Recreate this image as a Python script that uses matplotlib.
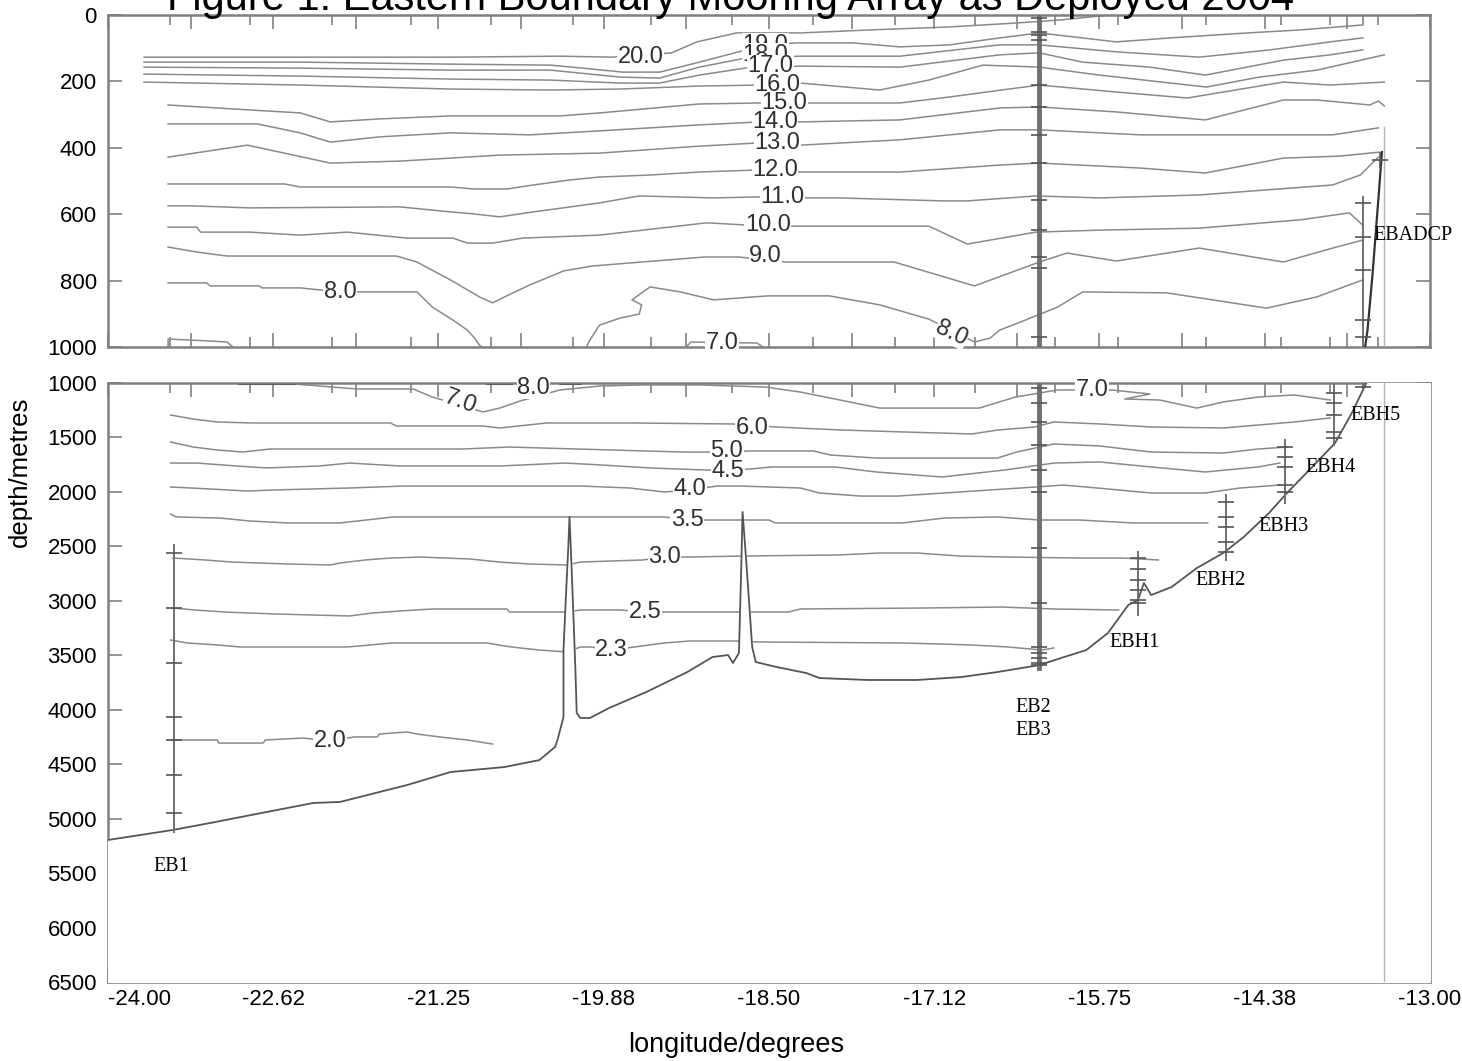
import numpy as np
import matplotlib.pyplot as plt

plt.rcParams['font.family'] = ['Liberation Sans', 'DejaVu Sans']

# ---------------- upper section (0-1000 m): isotherm depths ----------------
t20_lon = [-23.70, -22.40, -21.15, -20.24, -19.81, -19.31, -19.10, -18.77, -18.24, -17.66, -17.00, -16.44, -16.08, -15.66]
t20_dep = [127, 127, 127, 124, 127, 114, 81, 54, 54, 45, 36, 24, 15, 0]
t19_lon = [-23.70, -22.40, -21.15, -20.32, -20.05, -19.72, -19.41, -19.08, -18.70, -18.51, -18.27, -17.80, -17.41,
           -17.00, -16.58, -16.25, -15.61, -15.16, -14.52, -14.08, -13.56]
t19_dep = [142, 142, 148, 151, 160, 172, 172, 142, 106, 90, 84, 84, 96, 90, 69, 54, 81, 69, 54, 45, 30]
t18_lon = [-23.70, -22.40, -21.15, -20.32, -19.74, -19.41, -19.08, -18.70, -18.24, -17.41, -16.58, -16.25, -15.61,
           -14.92, -14.33, -13.83, -13.56]
t18_dep = [157, 160, 166, 166, 187, 190, 157, 130, 124, 124, 90, 90, 111, 127, 105, 81, 69]
t17_lon = [-23.70, -22.40, -21.15, -20.32, -19.74, -19.41, -19.08, -18.70, -18.24, -17.41, -16.58, -16.25, -15.89,
           -15.33, -14.87, -14.22, -13.83, -13.56]
t17_dep = [178, 184, 193, 196, 205, 205, 181, 160, 154, 157, 120, 114, 142, 157, 181, 136, 120, 105]
t16_lon = [-23.70, -22.40, -21.15, -20.32, -19.74, -19.08, -18.58, -18.24, -17.58, -17.17, -16.72, -16.25, -15.75,
           -14.86, -14.42, -13.94, -13.38]
t16_dep = [202, 211, 223, 226, 223, 214, 211, 205, 226, 196, 151, 157, 181, 217, 187, 166, 120]
t15_lon = [-23.50, -22.82, -22.40, -22.15, -21.74, -21.15, -20.24, -19.91, -19.08, -18.58, -18.13, -17.41, -17.00,
           -16.44, -16.25, -15.61, -15.02, -14.22, -13.83, -13.38]
t15_dep = [271, 286, 295, 322, 313, 304, 304, 295, 268, 265, 265, 265, 247, 220, 211, 232, 250, 202, 211, 202]
t14_lon = [-23.50, -22.76, -22.40, -22.15, -21.74, -21.15, -20.49, -19.91, -19.08, -18.58, -18.24, -17.41, -16.58,
           -16.25, -15.61, -14.87, -14.22, -13.94, -13.50, -13.43, -13.38]
t14_dep = [328, 328, 355, 383, 367, 355, 361, 349, 331, 322, 322, 316, 280, 277, 292, 316, 256, 256, 271, 259, 274]
t13_lon = [-23.50, -22.84, -22.15, -21.57, -21.15, -20.74, -19.91, -19.08, -18.62, -18.24, -17.41, -16.58, -16.25,
           -15.41, -13.81, -13.43]
t13_dep = [428, 392, 446, 440, 431, 422, 416, 395, 386, 392, 376, 346, 346, 361, 361, 340]
t12_lon = [-23.50, -22.53, -22.40, -21.15, -20.96, -20.68, -20.46, -20.16, -19.91, -19.49, -19.08, -18.62, -18.24,
           -17.41, -16.58, -16.25, -15.41, -14.87, -14.22, -13.75, -13.42]
t12_dep = [509, 509, 518, 518, 524, 524, 512, 497, 488, 482, 473, 467, 473, 473, 452, 446, 461, 476, 431, 425, 413]
t11_lon = [-23.50, -23.29, -22.82, -21.57, -21.15, -20.96, -20.74, -20.46, -19.91, -19.58, -18.96, -18.60, -18.14,
           -17.91, -17.05, -16.85, -16.28, -15.75, -14.92, -13.81, -13.58, -13.43]
t11_dep = [575, 575, 581, 578, 593, 599, 608, 593, 566, 545, 551, 548, 551, 551, 560, 560, 545, 551, 542, 512, 482, 428]
t10_lon = [-23.50, -23.26, -23.23, -22.82, -22.40, -22.01, -21.76, -21.51, -21.13, -21.01, -20.80, -20.55, -19.91,
           -19.02, -18.51, -17.17, -16.85, -16.28, -15.75, -14.92, -14.08, -13.67, -13.56]
t10_dep = [639, 639, 654, 654, 663, 654, 663, 672, 672, 687, 687, 672, 663, 626, 636, 636, 690, 654, 648, 642, 617, 596, 633]
t9_lon = [-23.50, -23.26, -23.01, -21.60, -21.43, -21.15, -20.91, -20.80, -20.70, -20.49, -20.21, -19.97, -19.04,
          -18.75, -18.36, -17.46, -16.79, -16.25, -16.02, -15.61, -14.92, -14.22, -13.81, -13.56]
t9_dep = [699, 714, 726, 726, 744, 798, 849, 867, 849, 813, 771, 756, 729, 729, 744, 744, 816, 744, 717, 741, 702, 744, 702, 678]
t8a_lon = [-23.50, -23.18, -23.15, -22.74, -22.72, -22.40, -22.24, -21.89, -21.43, -21.30, -21.13, -21.01, -20.95, -20.91, -20.89]
t8a_dep = [807, 807, 816, 816, 822, 822, 828, 834, 834, 880, 919, 949, 973, 994, 1000]
t8b_lon = [-20.02, -19.99, -19.91, -19.74, -19.58, -19.56, -19.64, -19.49, -19.24, -18.96, -18.51, -18.00, -17.58,
           -17.17, -16.79, -16.66, -16.58, -16.43, -16.10, -15.89, -15.19, -14.36, -13.94, -13.56]
t8b_dep = [1000, 979, 934, 913, 901, 873, 858, 819, 834, 858, 846, 846, 873, 916, 985, 973, 949, 928, 880, 834, 837, 883, 849, 798]
t7a_lon = [-23.50, -23.50, -23.15, -23.01, -22.96]
t7a_dep = [1000, 976, 982, 985, 1000]
t7b_lon = [-19.19, -19.15, -18.60, -18.55]
t7b_dep = [1000, 985, 988, 1000]

top_lab_text = ['20.0', '19.0', '18.0', '17.0', '16.0', '15.0', '14.0', '13.0', '12.0', '11.0', '10.0', '9.0', '8.0', '8.0', '7.0']
top_lab_lon = [-19.57, -18.53, -18.53, -18.49, -18.43, -18.37, -18.45, -18.43, -18.45, -18.39, -18.51, -18.53, -22.07, -16.98, -18.89]
top_lab_dep = [127, 90, 120, 154, 211, 265, 322, 386, 467, 548, 633, 726, 834, 958, 988]
top_lab_rot = [0, 0, 0, 0, 0, 0, 0, 0, 0, 0, 0, 0, 0, -25, 0]

# slope in the upper section
slope_lon = [-13.54, -13.52, -13.48, -13.43, -13.40]
slope_dep = [1000, 949, 789, 557, 413]

# ---------------- lower section (1000-6500 m) ----------------
b8_lon = [-22.91, -22.45, np.nan, -20.85, -20.65, np.nan, -20.24, -20.07]
b8_dep = [1004, 1004, np.nan, 1004, 1004, np.nan, 1004, 1004]
b7_lon = [-22.45, -21.93, -21.46, -21.30, -20.88, -20.74, -20.57, -20.36, -20.24, -19.91, -19.57, -19.07, -18.53,
          -18.24, -17.91, -17.58, -16.75, -16.45, -16.10, -15.65, -15.33, -15.54, -15.25, -14.94, -14.72, -14.43,
          -14.13, -13.83]
b7_dep = [1009, 1055, 1055, 1129, 1266, 1230, 1165, 1101, 1064, 1028, 1018, 1018, 1037, 1083, 1156, 1230, 1230,
          1129, 1064, 1064, 1101, 1147, 1156, 1230, 1174, 1129, 1110, 1156]
b6_lon = [-23.48, -23.29, -23.09, -22.80, -21.65, -21.60, -20.88, -20.74, -20.35, -19.67, -18.81, -18.44, -17.89,
          -17.37, -16.81, -16.60, -16.29, -16.13, -15.75, -15.32, -14.72, -14.13, -13.83]
b6_dep = [1294, 1331, 1358, 1367, 1367, 1395, 1395, 1413, 1367, 1367, 1376, 1404, 1432, 1450, 1468, 1432, 1404,
          1358, 1376, 1404, 1413, 1358, 1321]
b5_lon = [-23.48, -23.29, -23.09, -22.88, -22.65, -21.05, -20.66, -20.10, -19.22, -18.85, -18.66, -18.13, -17.99,
          -17.61, -16.60, -16.44, -16.13, -15.75, -15.32, -14.72, -14.43, -14.19]
b5_dep = [1542, 1588, 1615, 1634, 1606, 1606, 1588, 1606, 1634, 1634, 1624, 1624, 1661, 1689, 1689, 1634, 1560,
          1578, 1634, 1643, 1606, 1588]
b45_lon = [-23.48, -23.26, -22.93, -22.68, -22.24, -21.99, -21.57, -20.74, -20.20, -19.89, -19.49, -19.03, -18.84,
           -18.66, -18.48, -17.95, -17.61, -17.06, -16.54, -16.13, -15.75, -15.32, -14.87, -14.43, -14.25]
b45_dep = [1735, 1735, 1762, 1780, 1762, 1735, 1762, 1762, 1735, 1753, 1780, 1799, 1799, 1790, 1771, 1771, 1817,
           1863, 1799, 1735, 1725, 1771, 1817, 1771, 1735]
b4_lon = [-23.48, -23.15, -22.84, -22.61, -21.99, -21.53, -20.07, -19.66, -19.37, -19.17, -18.93, -18.74, -18.24,
          -18.08, -17.74, -17.43, -17.04, -16.66, -16.28, -16.05, -15.77, -15.32, -14.87, -14.58, -14.25]
b4_dep = [1955, 1973, 1992, 1982, 1964, 1946, 1946, 1964, 2001, 1982, 1946, 1946, 1964, 2010, 2038, 2038, 2010,
          1982, 1955, 1937, 1964, 2010, 2010, 1964, 1937]
b35_lon = [-23.48, -23.43, -23.07, -22.82, -22.51, -22.07, -21.85, -21.63, -19.92, -19.37, -19.18, -18.98, -18.50,
           -18.45, -17.39, -17.04, -16.60, -16.25, -15.92, -15.47, -14.85]
b35_dep = [2203, 2230, 2240, 2267, 2285, 2285, 2258, 2230, 2230, 2230, 2258, 2258, 2258, 2285, 2285, 2240, 2230,
           2258, 2258, 2285, 2285]
b3_lon = [-23.46, -23.19, -22.97, -22.50, -22.15, -22.07, -21.86, -21.65, -21.40, -20.99, -20.74, -20.49, -20.18,
          -20.07, -19.55, -19.37, -19.17, -18.74, -17.92, -17.58, -17.27, -16.91, -16.51, -15.92, -15.56, -15.26]
b3_dep = [2607, 2625, 2644, 2662, 2671, 2653, 2625, 2607, 2598, 2616, 2644, 2662, 2671, 2644, 2625, 2598, 2598,
          2589, 2579, 2561, 2561, 2589, 2598, 2607, 2607, 2625]
b25_lon = [-23.46, -23.28, -23.03, -22.61, -21.99, -21.80, -21.57, -21.30, -20.68, -20.66, -20.18, -20.07, -19.74,
           -19.53, -19.33, -18.34, -18.24, -17.21, -16.56, -16.13, -15.59]
b25_dep = [3066, 3084, 3103, 3121, 3139, 3112, 3093, 3075, 3075, 3103, 3103, 3084, 3084, 3103, 3103, 3103, 3075,
           3066, 3057, 3075, 3084]
b23_lon = [-23.48, -23.34, -23.08, -22.90, -22.01, -21.82, -21.64, -20.85, -20.70, -20.57, -20.41, -20.18, -20.07,
           -19.98, -19.81, -19.62, -19.37, -19.16, -18.78, -18.58, -17.41, -17.06, -16.81, -16.51, -16.23, -16.13]
b23_dep = [3360, 3387, 3406, 3424, 3424, 3406, 3387, 3387, 3415, 3433, 3452, 3470, 3424, 3424, 3452, 3424, 3387,
           3369, 3369, 3378, 3387, 3397, 3406, 3424, 3452, 3433]
b2_lon = [-23.48, -23.09, -23.08, -22.71, -22.69, -22.38, -22.15, -21.95, -21.76, -21.74, -21.51, -21.43, -21.24,
          -21.01, -20.80]
b2_dep = [4278, 4278, 4306, 4306, 4278, 4260, 4287, 4250, 4250, 4223, 4204, 4223, 4250, 4278, 4315]

bot_lab_text = ['8.0', '7.0', '7.0', '6.0', '5.0', '4.5', '4.0', '3.5', '3.0', '2.5', '2.3', '2.0']
bot_lab_lon = [-20.46, -21.07, -15.81, -18.64, -18.85, -18.84, -19.16, -19.18, -19.37, -19.53, -19.81, -22.15]
bot_lab_dep = [1046, 1174, 1064, 1413, 1624, 1808, 1973, 2258, 2598, 3103, 3452, 4287]
bot_lab_rot = [0, -20, 0, 0, 0, 0, 0, 0, 0, 0, 0, 0]

# sea floor along the section
bathy_lon = [-24.00, -23.46, -23.15, -22.68, -22.29, -22.07, -21.51, -21.15, -20.70, -20.41, -20.28, -20.26, -20.21,
             -20.21, -20.19, -20.17, -20.16, -20.15, -20.13, -20.11, -20.10, -20.07, -19.99, -19.83, -19.52, -19.18,
             -18.97, -18.84, -18.80, -18.75, -18.73, -18.72, -18.69, -18.64, -18.61, -18.44, -18.19, -18.08, -17.68,
             -17.27, -16.90, -16.60, -16.25, -16.07, -15.86, -15.68, -15.51, -15.43, -15.38, -15.32, -15.15, -14.94,
             -14.72, -14.55, -14.34, -14.19, -13.98, -13.79, -13.65, -13.53]
bathy_dep = [5196, 5104, 5040, 4939, 4856, 4847, 4691, 4572, 4526, 4462, 4342, 4278, 4067, 3452, 2965, 2506, 2230,
             2487, 3057, 3663, 4030, 4076, 4076, 3984, 3837, 3654, 3516, 3498, 3571, 3479, 2653, 2184, 2625, 3424,
             3562, 3607, 3663, 3709, 3727, 3727, 3700, 3654, 3590, 3525, 3452, 3296, 3038, 2993, 2836, 2947, 2873,
             2699, 2561, 2414, 2194, 2010, 1771, 1551, 1275, 1000]

# CTD station positions (minor ticks)
station_lon = [-23.48, -22.82, -22.14, -21.48, -20.81, -20.13, -19.48, -18.81, -18.13, -17.45, -16.79, -16.12,
               -15.60, -14.86, -14.24, -13.83, -13.56, -13.43]

# moorings: longitude, top/bottom depth, instrument depths
eb1_lon, eb1_span = -23.45, [2487, 5122]
eb1_inst = [2561, 3066, 3571, 4067, 4278, 4600, 4949]
eb2_lon, eb2_span = -16.25, [0, 3620]
eb2_inst = [9, 51, 60, 75, 211, 277, 361, 446, 557, 648, 729, 762, 970, 1046, 1184, 1358, 1569, 1799, 2001, 2515,
            3020, 3424, 3479, 3525, 3571, 3590]
ebh1_lon, ebh1_span = -15.43, [2552, 3130]
ebh1_inst = [2607, 2708, 2809, 2901, 2993, 3020]
ebh2_lon, ebh2_span = -14.70, [2028, 2625]
ebh2_inst = [2093, 2230, 2322, 2460, 2552]
ebh3_lon, ebh3_span = -14.21, [1523, 2102]
ebh3_inst = [1588, 1679, 1771, 1937, 2001]
ebh4_lon, ebh4_span = -13.80, [1018, 1569]
ebh4_inst = [1092, 1184, 1294, 1450, 1505]
ebh5_lon, ebh5_span = -13.56, [548, 1060]
ebh5_inst = [566, 669, 768, 919, 970, 1040]
adcp_lon, adcp_dep = -13.42, 437
limit_lon = -13.38

mooring_names = ['EB1', 'EB2', 'EB3', 'EBH1', 'EBH2', 'EBH3', 'EBH4', 'EBH5']
mooring_name_lon = [-23.47, -16.30, -16.30, -15.46, -14.74, -14.22, -13.83, -13.45]
mooring_name_dep = [5435, 3984, 4195, 3387, 2809, 2322, 1780, 1294]

LINE = '#8a8a8a'
FRAME = '#808080'

fig = plt.figure(figsize=(14.62, 10.61), dpi=100)
ax1 = fig.add_axes([108 / 1462, 1 - 347 / 1061, 1322 / 1462, 332 / 1061])
ax2 = fig.add_axes([108 / 1462, 1 - 982 / 1061, 1322 / 1462, 599 / 1061])

major = np.linspace(-24, -13, 17)
for ax, (ymin, ymax, ystep) in [(ax1, (0, 1000, 200)), (ax2, (1000, 6500, 500))]:
    ax.set_xlim(-24, -13)
    ax.set_ylim(ymax, ymin)
    ax.set_xticks(major)
    ax.set_xticks(station_lon, minor=True)
    ax.set_yticks(np.arange(ymin, ymax + 1, ystep))
    ax.tick_params(which='both', direction='in', top=True, right=True, color=FRAME, width=1.2,
                   labelsize=16, pad=8)
    ax.tick_params(which='major', length=10)
    ax.tick_params(which='minor', length=7)
    ax.tick_params(axis='x', pad=5)
    for s in ax.spines.values():
        s.set_color(FRAME)
        s.set_linewidth(1.8)

ax1.tick_params(axis='x', labelbottom=False)
xlabels = ['%.2f' % v if i % 2 == 0 else '' for i, v in enumerate(major)]
ax2.set_xticklabels(xlabels)
ax2.get_xticklabels()[0].set_horizontalalignment('left')

# upper isotherms
for lon, dep in [(t20_lon, t20_dep), (t19_lon, t19_dep), (t18_lon, t18_dep), (t17_lon, t17_dep),
                 (t16_lon, t16_dep), (t15_lon, t15_dep), (t14_lon, t14_dep), (t13_lon, t13_dep),
                 (t12_lon, t12_dep), (t11_lon, t11_dep), (t10_lon, t10_dep), (t9_lon, t9_dep),
                 (t8a_lon, t8a_dep), (t8b_lon, t8b_dep), (t7a_lon, t7a_dep), (t7b_lon, t7b_dep)]:
    ax1.plot(lon, dep, color=LINE, lw=1.1, zorder=2)
ax1.plot(slope_lon, slope_dep, color='#333333', lw=1.6, zorder=4)
ax1.plot([limit_lon, limit_lon], [337, 1000], color='#b5b5b5', lw=1.0, zorder=4)
ax1.plot(adcp_lon, adcp_dep, marker='+', ms=12, mew=1.2, color='#555555', zorder=5)
for s, lo, d, r in zip(top_lab_text, top_lab_lon, top_lab_dep, top_lab_rot):
    ax1.text(lo, d, s, ha='center', va='center', fontsize=17, rotation=r, color='#303030', zorder=6,
             bbox=dict(fc='white', ec='none', pad=0.3))

# lower isotherms
for lon, dep in [(b7_lon, b7_dep), (b6_lon, b6_dep), (b5_lon, b5_dep), (b45_lon, b45_dep), (b4_lon, b4_dep),
                 (b35_lon, b35_dep), (b3_lon, b3_dep), (b25_lon, b25_dep), (b23_lon, b23_dep), (b2_lon, b2_dep)]:
    ax2.plot(lon, dep, color=LINE, lw=1.1, zorder=2)
ax2.plot(b8_lon, b8_dep, color='black', lw=2.2, zorder=2)

# sea floor: blank out everything beneath it
fill_lon = np.append(bathy_lon, ax2.get_xlim()[1])
fill_dep = np.append(bathy_dep, bathy_dep[-1])
ax2.fill_between(fill_lon, fill_dep, 6500, color='white', zorder=3)
ax2.plot(bathy_lon, bathy_dep, color='#555555', lw=1.3, zorder=4)
ax2.plot([limit_lon, limit_lon], [1000, 6500], color='#b5b5b5', lw=1.0, zorder=4)
for s, lo, d, r in zip(bot_lab_text, bot_lab_lon, bot_lab_dep, bot_lab_rot):
    ax2.text(lo, d, s, ha='center', va='center', fontsize=17, rotation=r, color='#303030', zorder=6,
             bbox=dict(fc='white', ec='none', pad=0.3))

# moorings with instrument positions
moorings = [(eb1_lon, eb1_span, eb1_inst, 1.4), (eb2_lon, eb2_span, eb2_inst, 3.5),
            (ebh1_lon, ebh1_span, ebh1_inst, 1.4), (ebh2_lon, ebh2_span, ebh2_inst, 1.4),
            (ebh3_lon, ebh3_span, ebh3_inst, 1.4), (ebh4_lon, ebh4_span, ebh4_inst, 1.4),
            (ebh5_lon, ebh5_span, ebh5_inst, 1.4)]
for ax in (ax1, ax2):
    for lon, span, inst, lw in moorings:
        ax.plot([lon, lon], span, color='#707070', lw=lw, zorder=5)
        ax.plot([lon] * len(inst), inst, ls='none', marker='_', ms=12, mew=1.2, color='#555555', zorder=5)

for s, lo, d in zip(mooring_names, mooring_name_lon, mooring_name_dep):
    ax2.text(lo, d, s, ha='center', va='center', fontsize=14.5, family='Liberation Serif', zorder=7)
ax1.text(-13.14, 663, 'EBADCP', ha='center', va='center', fontsize=14.5, family='Liberation Serif', zorder=7,
         clip_on=False)

fig.text(731 / 1462, 1 - 10 / 1061, 'Figure 1: Eastern Boundary Mooring Array as Deployed 2004',
         ha='center', va='baseline', fontsize=30)
fig.text(20 / 1462, 1 - 472 / 1061, 'depth/metres', rotation=90, ha='center', va='center', fontsize=18.5)
fig.text(736 / 1462, 1 - 1045 / 1061, 'longitude/degrees', ha='center', va='center', fontsize=19.5)

fig.savefig('out.png', dpi=100)
